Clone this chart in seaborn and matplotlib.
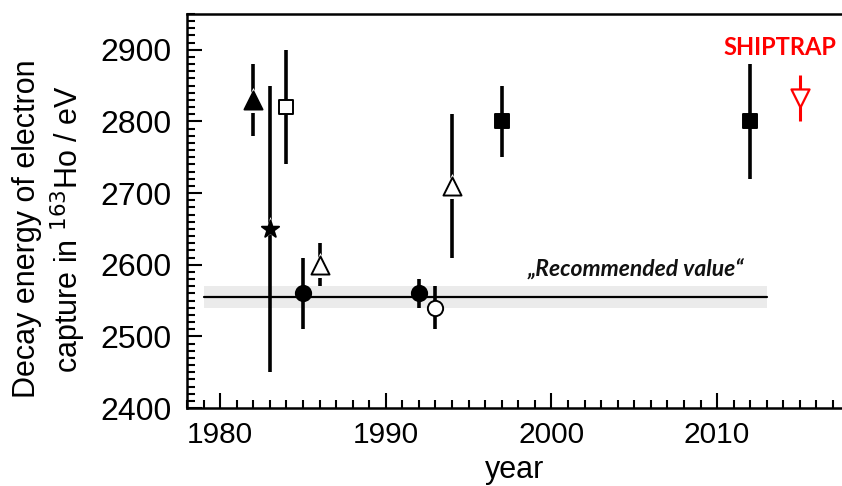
import matplotlib
matplotlib.use("Agg")
import matplotlib.pyplot as plt
from matplotlib.ticker import FixedLocator, MultipleLocator
from matplotlib.lines import Line2D
import seaborn as sns

# ---- data ----
years   = [1982, 1983, 1984, 1985, 1986, 1992, 1993, 1994, 1997, 2012]
values  = [2830, 2650, 2820, 2560, 2600, 2560, 2540, 2710, 2800, 2800]
errors  = [50,   200,  80,   50,   30,   20,   30,   100,  50,   80]
markers = ["^",  "*",  "s",  "o",  "^",  "o",  "o",  "^",  "s",  "s"]
filled  = [True, True, False, True, False, True, False, False, True, True]

shiptrap_year  = 2015
shiptrap_value = 2833
shiptrap_err   = 32

recommended_value = 2555
recommended_err   = 15
recommended_span  = [1979, 2013]

x_ticks = [1980, 1990, 2000, 2010]
y_ticks = [2400, 2500, 2600, 2700, 2800, 2900]
x_minor = [x for x in range(1978, 2018) if x not in x_ticks]
y_minor = [y for y in range(2400, 2951, 10) if y not in y_ticks]

sns.set_style("ticks")
plt.rcParams.update({
    "font.family": ["Liberation Sans", "DejaVu Sans"],
    "text.color": "black", "axes.labelcolor": "black",
    "xtick.labelcolor": "black", "ytick.labelcolor": "black",
})

fig = plt.figure(figsize=(8.42, 4.86), dpi=100)
ax = fig.add_axes([187/842, 78/486, 1 - 187/842, (408-14)/486])
ax.set_axisbelow(False)

# recommended value band + line
ax.fill_between(recommended_span,
                [recommended_value - recommended_err]*2,
                [recommended_value + recommended_err]*2,
                color="#ebebeb", lw=0, zorder=1)
ax.plot(recommended_span, [recommended_value]*2, color="black", lw=1.6, zorder=2)
ax.text(2005.1, 2584, "\u201eRecommended value\u201c", family=["Lato", "DejaVu Sans"],
        fontsize=16.5, fontweight="bold", style="italic", ha="center", va="baseline",
        color="#111111")

# error bars
ax.vlines(years, [v - e for v, e in zip(values, errors)],
          [v + e for v, e in zip(values, errors)],
          color="black", lw=2.6, zorder=3)

size_map = {"^": 13, "*": 13, "s": 10, "o": 11}
for yr, val, mk, fl in zip(years, values, markers, filled):
    ms = size_map[mk]
    if mk in ("^", "*"):
        sns.scatterplot(x=[float(yr)], y=[float(val)], marker=mk, s=(ms+5)**2,
                        color="white", edgecolor="white", linewidth=0, ax=ax, zorder=4,
                        legend=False)
    sns.scatterplot(x=[float(yr)], y=[float(val)], marker=mk, s=ms**2,
                    color="black" if fl else "white", edgecolor="black",
                    linewidth=1.4, ax=ax, zorder=5, legend=False)

# SHIPTRAP
ax.vlines([shiptrap_year], shiptrap_value - shiptrap_err, shiptrap_value + shiptrap_err,
          color="red", lw=2.2, zorder=3)
sns.scatterplot(x=[float(shiptrap_year)], y=[float(shiptrap_value)], marker="v", s=13**2,
                color="white", edgecolor="red", linewidth=1.6, ax=ax, zorder=5,
                legend=False)
ax.text(2013.8, 2903, "SHIPTRAP", family=["Lato", "DejaVu Sans"], color="red",
        fontsize=17, fontweight="bold", ha="center", va="center")

ax.set_xlabel("year", fontsize=22, labelpad=5, color="black")
ax.set_ylabel("")
fig.text(50/842, 1 - 229/486, "Decay energy of electron\ncapture in $^{163}$Ho / eV",
         rotation=90, ha="center", va="center", fontsize=22, multialignment="center",
         linespacing=1.25, color="black")

for side in ("left", "bottom", "top"):
    ax.spines[side].set_linewidth(1.8)
    ax.spines[side].set_color("black")
ax.spines["right"].set_visible(False)

# limits and ticks
ax.set_xlim(1978, 2017.54)
ax.set_ylim(2400, 2950)
ax.xaxis.set_major_locator(FixedLocator(x_ticks))
ax.yaxis.set_major_locator(FixedLocator(y_ticks))
ax.xaxis.set_minor_locator(MultipleLocator(1))
ax.yaxis.set_minor_locator(MultipleLocator(10))
ax.tick_params(which="both", direction="in", top=False, right=False,
               bottom=True, left=True, width=1.5, color="black")
ax.tick_params(which="major", length=10.5)
ax.tick_params(which="minor", length=6)
ax.tick_params(axis="y", which="major", labelsize=23, pad=11, labelcolor="black")
ax.tick_params(axis="x", which="major", labelsize=21.5, pad=9, labelcolor="black")

fig.savefig("out.png", dpi=100)

# self-check: if the short minor ticks did not come out, draw them as
# figure-level lines on top of everything and save again
img = plt.imread("out.png")
H = img.shape[0]
fig.canvas.draw()
px, py = ax.transData.transform((1978, 2810))
row = int(round(H - py))
col = int(round(px)) + 4
patch = img[max(row - 1, 0):row + 2, col - 1:col + 2, :3]
if patch.size == 0 or patch.mean() > 0.55:
    tick_len = 6 * fig.dpi / 72.0
    W = fig.bbox.width
    Hf = fig.bbox.height
    x0, y0 = ax.transAxes.transform((0, 0))
    for xv in x_minor:
        xd, _ = ax.transData.transform((xv, 2400))
        fig.add_artist(Line2D([xd / W, xd / W], [y0 / Hf, (y0 + tick_len) / Hf],
                              transform=fig.transFigure, color="black", lw=1.5,
                              zorder=100))
    for yv in y_minor:
        _, yd = ax.transData.transform((1978, yv))
        fig.add_artist(Line2D([x0 / W, (x0 + tick_len) / W], [yd / Hf, yd / Hf],
                              transform=fig.transFigure, color="black", lw=1.5,
                              zorder=100))
    fig.savefig("out.png", dpi=100)
